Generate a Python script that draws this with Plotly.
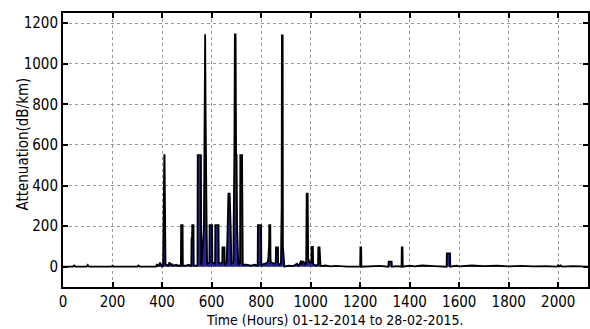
import plotly.graph_objects as go

# Time (hours) and attenuation (dB/km)
hours = [
    0, 40, 45, 50, 95, 100, 105, 195, 200, 205, 300, 305, 310, 375, 380, 385, 392, 396, 400,
    404, 405, 406, 408, 409, 410, 411, 413, 414, 416, 425, 430, 435, 440, 445, 458, 462, 466,
    476, 477, 483, 484, 500, 505, 518, 519, 521, 522, 527, 528,
    543, 544, 557, 558, 560, 569, 570, 571, 573, 574, 576, 577, 580, 582,
    591, 592, 602, 603, 614, 615, 628, 629, 643, 644, 652, 653, 654,
    661, 662, 665, 667, 668, 673, 674, 677, 680,
    688, 689, 692, 694, 697, 699, 701, 703, 705, 708,
    715, 716, 723, 724, 726, 740, 760, 775, 786, 787, 800, 801, 803, 815,
    826, 829, 832, 833, 837, 838, 840, 855, 859, 860, 868, 869, 871, 880, 883, 884, 887, 888, 891, 894,
    910, 930, 945, 950, 955, 962, 965, 970, 975, 978,
    982, 984, 988, 990, 996, 1003, 1004, 1009, 1010, 1020,
    1030, 1031, 1036, 1037, 1040, 1060, 1080, 1100, 1150, 1199,
    1200, 1201, 1204, 1205, 1240, 1280, 1314, 1315, 1327, 1328, 1350,
    1367, 1368, 1371, 1372, 1400, 1420, 1450, 1500, 1530,
    1549, 1550, 1563, 1564, 1590, 1600, 1650, 1700, 1750, 1800, 1850,
    1900, 1950, 1995, 2000, 2005, 2010, 2015, 2060, 2120,
]
attenuation = [
    0, 0, 6, 0, 0, 8, 0, 0, 5, 0, 0, 6, 0, 0, 12, 0, 20, 8, 0,
    5, 200, 200, 380, 550, 550, 200, 200, 10, 12, 5, 22, 8, 12, 5, 10, 4, 6,
    5, 205, 205, 5, 5, 10, 5, 140, 140, 205, 205, 5,
    5, 550, 550, 10, 20, 200, 610, 740, 1145, 1145, 740, 200, 200, 15,
    20, 205, 205, 20, 15, 205, 205, 15, 20, 95, 95, 15, 10,
    20, 200, 200, 310, 360, 360, 200, 200, 15,
    20, 200, 550, 1145, 1145, 550, 550, 200, 20, 10,
    20, 550, 550, 20, 10, 10, 5, 10, 5, 205, 205, 5, 10, 15,
    20, 40, 108, 205, 205, 40, 20, 15, 20, 95, 95, 15, 10, 15, 300, 1140, 1140, 100, 15, 0,
    5, 3, 15, 5, 12, 30, 10, 25, 20, 10,
    20, 360, 360, 40, 20, 20, 98, 98, 15, 5,
    10, 95, 95, 5, 3, 6, 2, 4, 0, 0,
    0, 95, 95, 0, 3, 4, 0, 25, 25, 0, 3,
    0, 95, 95, 0, 5, 2, 6, 3, 0,
    0, 65, 65, 0, 5, 2, 6, 3, 5, 2, 4,
    2, 3, 0, 8, 2, 6, 0, 3, 0,
]
assert len(hours) == len(attenuation)

x_ticks = [0, 200, 400, 600, 800, 1000, 1200, 1400, 1600, 1800, 2000]
y_ticks = [0, 200, 400, 600, 800, 1000, 1200]

x_title = "Time (Hours) 01-12-2014 to 28-02-2015."
y_title = "Attenuation(dB/km)"

font_family = "Liberation Sans Narrow, Arial Narrow, DejaVu Sans Condensed, Arial, sans-serif"

fig = go.Figure()
fig.add_trace(go.Scatter(
    x=hours, y=attenuation, mode="lines",
    line=dict(color="black", width=1.8),
    fill="tozeroy", fillcolor="#23239b",
    showlegend=False,
))

fig.update_layout(
    width=590, height=329,
    margin=dict(l=63, r=0, t=13, b=42),
    plot_bgcolor="white", paper_bgcolor="white",
    font=dict(family=font_family, size=15, color="black"),
    annotations=[
        dict(text=x_title, xref="paper", yref="paper", x=0.518, y=-0.122,
             xanchor="center", yanchor="middle", showarrow=False,
             font=dict(size=14)),
        dict(text=y_title, xref="paper", yref="paper", x=-0.078, y=0.52,
             xanchor="center", yanchor="middle", showarrow=False,
             textangle=-90, font=dict(size=15)),
    ],
)
fig.update_xaxes(
    range=[0, 2120], tickvals=x_ticks,
    ticks="inside", ticklen=5, tickwidth=1.5, tickcolor="black",
    showline=True, linecolor="black", linewidth=2, mirror="ticks",
    showgrid=True, gridcolor="#9a9a9a", griddash="dot", gridwidth=1,
    zeroline=False, tickfont=dict(size=15),
)
fig.update_yaxes(
    range=[-100, 1250], tickvals=y_ticks,
    ticks="inside", ticklen=5, tickwidth=1.5, tickcolor="black",
    showline=True, linecolor="black", linewidth=2, mirror="ticks",
    showgrid=True, gridcolor="#9a9a9a", griddash="dot", gridwidth=1,
    zeroline=False, tickfont=dict(size=15),
)

fig.write_html("out.html")
